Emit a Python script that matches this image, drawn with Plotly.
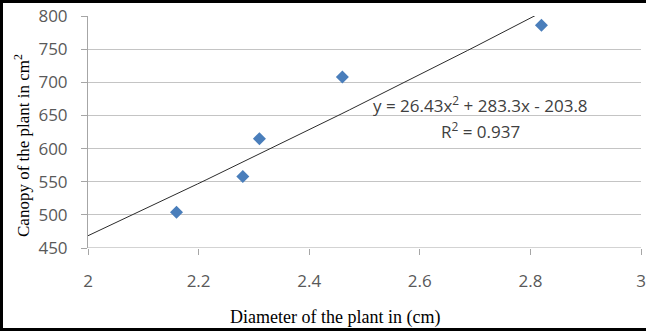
import numpy as np
import plotly.graph_objects as go

# data
diameter = [2.16, 2.28, 2.31, 2.46, 2.82]
canopy = [504, 558, 615, 708, 786]
trend_coef = [26.43, 283.3, -203.8]   # y = a x^2 + b x + c
trend_x = [2.0, 2.2, 2.4, 2.6, 2.8, 2.9]
x_ticks = [2, 2.2, 2.4, 2.6, 2.8, 3]
x_ticklabels = ["2", "2.2", "2.4", "2.6", "2.8", "3"]
y_ticks = [450, 500, 550, 600, 650, 700, 750, 800]

W, H = 646, 333
L, R, T, B = 88, 5, 16, 85
pw, ph = W - L - R, H - T - B

def px_x(p):
    return (p - L) / pw

def px_y(p):
    return (H - B - p) / ph

trend_xs = np.linspace(trend_x[0], trend_x[-1], 60)
trend_ys = np.polyval(trend_coef, trend_xs)

fig = go.Figure()
fig.add_trace(go.Scatter(x=trend_xs, y=trend_ys, mode="lines",
                         line=dict(color="#2b2b2b", width=1), showlegend=False))
fig.add_trace(go.Scatter(x=diameter, y=canopy, mode="markers",
                         marker=dict(symbol="diamond", size=10, color="#4a7ebb"),
                         showlegend=False))

tickfont = dict(family="Open Sans", size=17, color="#595959")
fig.update_layout(
    width=W, height=H,
    margin=dict(l=L, r=R, t=T, b=B),
    paper_bgcolor="white", plot_bgcolor="white",
    xaxis=dict(range=[2, 3], tickvals=x_ticks, ticktext=x_ticklabels,
               showgrid=False, zeroline=False, showline=False, automargin=False,
               ticks="outside", ticklen=6, tickcolor="#a6a6a6",
               tickfont=tickfont, ticklabelstandoff=12),
    yaxis=dict(range=[450, 800], tickvals=y_ticks, automargin=False,
               showgrid=True, gridcolor="#c4c4c4", gridwidth=1, zeroline=False,
               showline=True, linecolor="#a6a6a6", linewidth=1,
               ticks="outside", ticklen=6, tickcolor="#a6a6a6",
               tickfont=tickfont, ticklabelstandoff=10),
    annotations=[
        dict(text="y = 26.43x<sup>2</sup> + 283.3x - 203.8", xref="paper", yref="paper",
             x=px_x(480), y=px_y(104), showarrow=False, xanchor="center", yanchor="middle",
             font=dict(family="Open Sans", size=17, color="#404040")),
        dict(text="R<sup>2</sup> = 0.937", xref="paper", yref="paper",
             x=px_x(480), y=px_y(130), showarrow=False, xanchor="center", yanchor="middle",
             font=dict(family="Open Sans", size=17, color="#404040")),
        dict(text="Canopy of the plant in cm<sup>2</sup>", xref="paper", yref="paper",
             x=px_x(22), y=px_y(146), showarrow=False, textangle=-90,
             xanchor="center", yanchor="middle",
             font=dict(family="Liberation Serif", size=17, color="black")),
        dict(text="Diameter of the plant in (cm)", xref="paper", yref="paper",
             x=px_x(335), y=px_y(317), showarrow=False,
             xanchor="center", yanchor="middle",
             font=dict(family="Liberation Serif", size=18, color="black")),
    ],
    shapes=[
        dict(type="line", xref="paper", yref="paper", x0=px_x(0), x1=px_x(W + 5),
             y0=px_y(1.5), y1=px_y(1.5), line=dict(color="black", width=3)),
        dict(type="line", xref="paper", yref="paper", x0=px_x(0), x1=px_x(W + 5),
             y0=px_y(329.5), y1=px_y(329.5), line=dict(color="black", width=3)),
        dict(type="line", xref="paper", yref="paper", x0=px_x(1.5), x1=px_x(1.5),
             y0=px_y(0), y1=px_y(331), line=dict(color="black", width=3)),
    ],
)
fig.add_hline(y=450, line=dict(color="#a6a6a6", width=1))

fig.write_html("out.html", config={"displayModeBar": False},
               post_script="document.body.style.margin='0';document.body.style.overflow='hidden';")
